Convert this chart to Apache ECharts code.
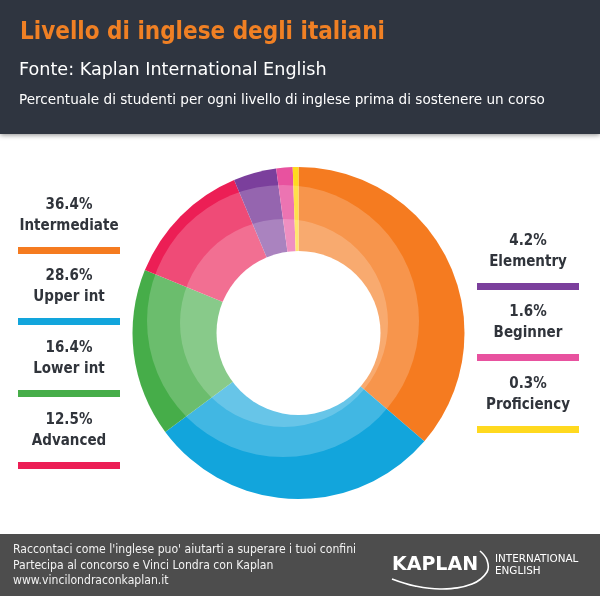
<!DOCTYPE html>
<html>
<head>
<meta charset="utf-8">
<style>html,body{margin:0;padding:0;background:#fff}#chart-box{width:600px;height:596px}</style>
<script src="https://cdn.jsdelivr.net/npm/echarts@6/dist/echarts.min.js"></script>
</head>
<body>
<div id="chart-box"></div>
<script>
const levels = ['Intermediate', 'Upper int', 'Lower int', 'Advanced', 'Elementry', 'Beginner', 'Proficiency']
const percents = [36.4, 28.6, 16.4, 12.5, 4.2, 1.6, 0.3]
const colors = ['#f57b20', '#12a5dc', '#46ad49', '#ec1e55', '#7b3f9c', '#e8529f', '#ffd91f']
const titleText = 'Livello di inglese degli italiani'
const sourceText = 'Fonte: Kaplan International English'
const subtitleText = 'Percentuale di studenti per ogni livello di inglese prima di sostenere un corso'
const footerLines = ["Raccontaci come l'inglese puo' aiutarti a superare i tuoi confini", 'Partecipa al concorso e Vinci Londra con Kaplan', 'www.vincilondraconkaplan.it']

const font = '"Noto Sans", sans-serif'
const headFont = '"DejaVu Sans", sans-serif'
const narrowFont = '"DejaVu Sans Condensed", "Noto Sans", sans-serif'

// legend slots: bar top y, for the left column then the right column
const legendSlots = [
    {x: 18, y: 247}, {x: 18, y: 318}, {x: 18, y: 390}, {x: 18, y: 462},
    {x: 477, y: 283}, {x: 477, y: 354}, {x: 477, y: 426}
]

function txt(x, y, text, size, color, weight, align, family) {
    return {
        type: 'text', x: x, y: y, z: 10, silent: true,
        style: {
            text: text, fill: color, fontSize: size, fontWeight: weight || 'normal',
            fontFamily: family || font, align: align || 'left', verticalAlign: 'middle'
        }
    }
}

function rect(x, y, w, h, fill, extra) {
    return {type: 'rect', z: 5, silent: true, shape: {x: x, y: y, width: w, height: h}, style: Object.assign({fill: fill}, extra)}
}

const graphics = [
    rect(0, 0, 600, 134, '#2f3540', {shadowColor: 'rgba(0,0,0,0.45)', shadowBlur: 5, shadowOffsetY: 1}),
    rect(0, 534, 600, 62, '#4d4d4d'),
    txt(20, 33, titleText, 24, '#f08024', 'bold', 'left', narrowFont),
    txt(19, 70, sourceText, 17.6, '#ffffff', 'normal', 'left', headFont),
    txt(19, 100, subtitleText, 13.6, '#ffffff', 'normal', 'left', headFont),
    txt(392, 565, 'KAPLAN', 19, '#ffffff', 'bold', 'left', headFont),
    txt(495, 559, 'INTERNATIONAL', 10.4, '#ffffff', 'normal', 'left', headFont),
    txt(495, 571, 'ENGLISH', 10.4, '#ffffff', 'normal', 'left', headFont),
    {
        type: 'polyline', z: 10, silent: true,
        shape: {points: [[392, 579], [415, 586], [442, 589], [472, 584], [487, 572], [487, 560], [480, 551]], smooth: 0.4},
        style: {stroke: '#ffffff', lineWidth: 1.6, fill: null}
    }
]

footerLines.forEach(function (line, i) {
    graphics.push(txt(13, 550 + i * 15.5, line, 12.1, '#f2f2f2', i === 1 ? 500 : 'normal', 'left', narrowFont))
})

levels.forEach(function (name, i) {
    const slot = legendSlots[i]
    graphics.push(rect(slot.x, slot.y, 102, 7, colors[i]))
    graphics.push(txt(slot.x + 51, slot.y - 42, percents[i].toFixed(1) + '%', 15, '#30343b', 'bold', 'center', narrowFont))
    graphics.push(txt(slot.x + 51, slot.y - 21, name, 15, '#30343b', 'bold', 'center', narrowFont))
})

const chart = echarts.init(document.getElementById('chart-box'))
const cover = {color: 'rgba(255,255,255,0.2)'}
chart.setOption({
    animation: false,
    graphic: graphics,
    series: [
        {
            type: 'pie', center: [298.5, 333], radius: [0, 166], startAngle: 90, minAngle: 2,
            silent: true, label: {show: false}, labelLine: {show: false},
            data: levels.map(function (name, i) {
                return {name: name, value: percents[i], itemStyle: {color: colors[i]}}
            })
        },
        // the two lighter discs sit off-centre, up and left of the ring
        {
            type: 'pie', center: [283, 321], radius: [0, 136], silent: true, label: {show: false},
            data: [{value: 1, itemStyle: cover}]
        },
        {
            type: 'pie', center: [284, 323], radius: [0, 104], silent: true, label: {show: false},
            data: [{value: 1, itemStyle: cover}]
        },
        {
            type: 'pie', center: [298.5, 333], radius: [0, 82], silent: true, label: {show: false},
            data: [{value: 1, itemStyle: {color: '#ffffff'}}]
        }
    ]
})
</script>
</body>
</html>
